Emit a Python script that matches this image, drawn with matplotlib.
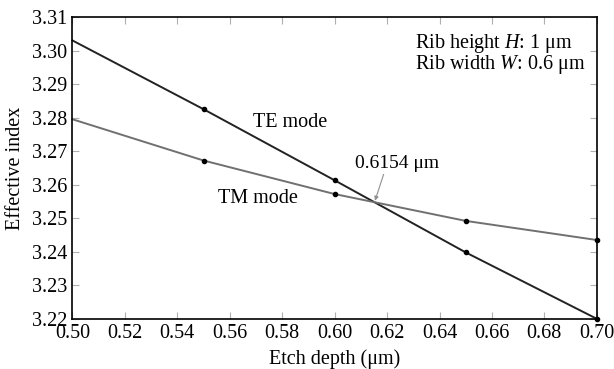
import matplotlib
matplotlib.use("Agg")
import matplotlib.pyplot as plt

# ---------------------------------
# Data
# ---------------------------------
etch_depth = [0.50, 0.55, 0.60, 0.65, 0.70]
te_index = [3.3030, 3.2825, 3.2613, 3.2398, 3.2200]
tm_index = [3.2795, 3.2672, 3.2572, 3.2492, 3.2435]
x_ticks = [0.50, 0.52, 0.54, 0.56, 0.58, 0.60, 0.62, 0.64, 0.66, 0.68, 0.70]
y_ticks = [3.22, 3.23, 3.24, 3.25, 3.26, 3.27, 3.28, 3.29, 3.30, 3.31]
cross_x, cross_y = 0.6154, 3.2552

plt.rcParams["font.family"] = ["Liberation Serif", "DejaVu Serif"]
plt.rcParams["mathtext.fontset"] = "custom"
plt.rcParams["mathtext.it"] = "Liberation Serif:italic"
plt.rcParams["mathtext.rm"] = "Liberation Serif"

fig = plt.figure(figsize=(6.14, 3.69), dpi=100)
ax = fig.add_axes([0.118, 0.136, 0.854, 0.818])

ax.plot(etch_depth, te_index, color="#222222", lw=1.4, marker="o", ms=3,
        mfc="black", mec="black", markevery=slice(1, None), clip_on=False)
ax.plot(etch_depth, tm_index, color="#707070", lw=1.4, marker="o", ms=3,
        mfc="black", mec="black", markevery=slice(1, None), clip_on=False)

ax.set_xlim(0.50, 0.70)
ax.set_ylim(3.22, 3.31)
ax.set_xticks(x_ticks)
ax.set_yticks(y_ticks)
ax.set_xticklabels([f"{v:.2f}" for v in x_ticks])
ax.set_yticklabels([f"{v:.2f}" for v in y_ticks])
ax.tick_params(direction="in", length=5, width=0.8, color="#b0b0b0",
               top=True, right=True, labelsize=14.5)
ax.tick_params(axis="x", pad=4)
ax.tick_params(axis="y", pad=3.5)
for s in ax.spines.values():
    s.set_linewidth(1.2)

ax.set_xlabel("Etch depth (μm)", fontsize=14.5, labelpad=4)
ax.set_ylabel("Effective index", fontsize=14.5, labelpad=5)

box = dict(facecolor="white", edgecolor="none", pad=1)
ax.text(0.5688, 3.2785, "TE mode", fontsize=14.5, ha="left", va="center", bbox=box)
ax.text(0.5555, 3.2558, "TM mode", fontsize=14.5, ha="left", va="center", bbox=box)
ax.annotate("0.6154 μm", xy=(cross_x, cross_y), xytext=(0.6077, 3.2662),
            fontsize=14, ha="left", va="center", bbox=box,
            arrowprops=dict(arrowstyle="-|>", color="#909090", lw=0.8,
                            shrinkA=0, shrinkB=0, mutation_scale=6,
                            relpos=(0.35, 0.0)))
ax.text(0.6305, 3.2990, "Rib height $H$: 1 μm\nRib width $W$: 0.6 μm",
        fontsize=14.5, ha="left", va="center", linespacing=0.9)

fig.savefig("out.png", dpi=100)
